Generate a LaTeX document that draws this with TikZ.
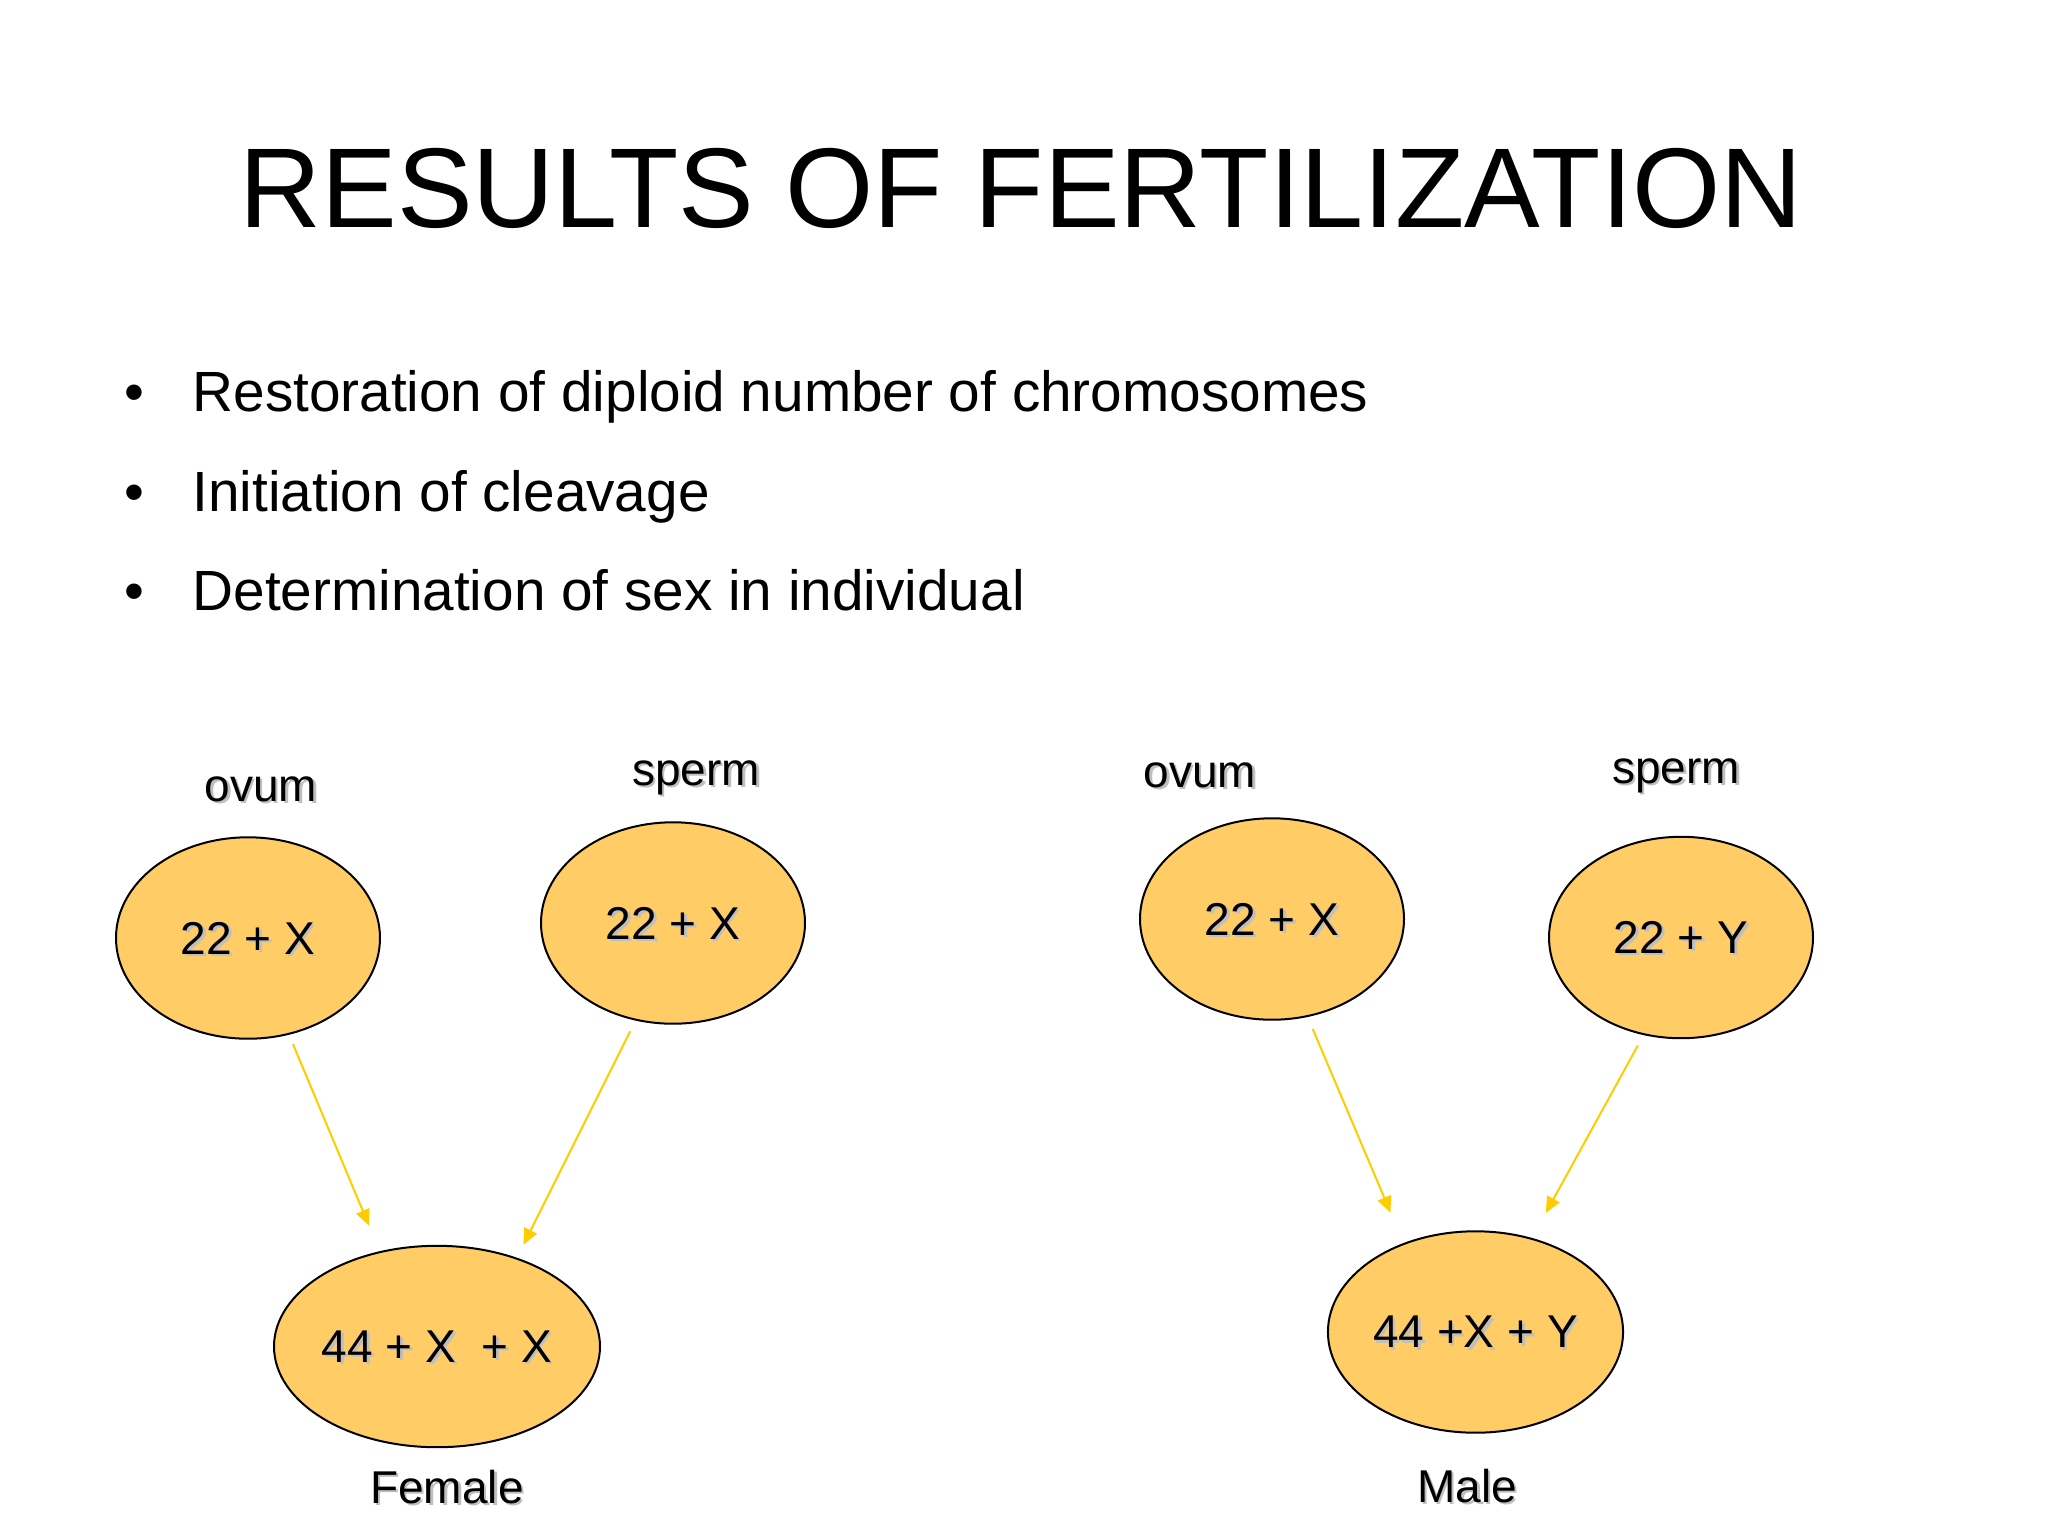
\documentclass[tikz,border=0pt]{standalone}
\usepackage{fontspec}
\setmainfont{Liberation Sans}
\usepackage{xcolor}
\usepackage{tikz}
\usetikzlibrary{shapes.geometric,arrows.meta}

\definecolor{cellfill}{HTML}{FFCC66}
\definecolor{arrowgold}{HTML}{FFCC00}
\newcommand{\shadowed}[1]{\rlap{\kern0.9pt\raisebox{-0.8pt}{\textcolor{black!25}{#1}}}#1}

\begin{document}
\begin{tikzpicture}[x=0.35pt, y=-0.35pt,
    cell/.style={ellipse, draw, line width=0.7pt, fill=cellfill, minimum width=92.4pt, minimum height=70.5pt, inner sep=0pt, text depth=-1.2pt, font=\fontsize{16.1}{19}\selectfont},
    caption/.style={anchor=base, inner sep=0pt, font=\fontsize{16.1}{19}\selectfont},
    point/.style={anchor=base west, inner sep=0pt, font=\fontsize{19.85}{24}\selectfont},
    arrow/.style={-{Triangle[length=5.6pt,width=4.9pt]}, arrowgold, line width=0.7pt}]
    \useasboundingbox (0,0) rectangle (2048,1535);

    \node [anchor=base, inner sep=0pt, font=\fontsize{39.7}{48}\selectfont] (title) at (1021,228) {RESULTS OF FERTILIZATION};

    \node [point] (restore) at (192,411) {\llap{\textbullet\hspace{16.8pt}}Restoration of diploid number of chromosomes};
    \node [point] (cleave) at (192,511) {\llap{\textbullet\hspace{16.8pt}}Initiation of cleavage};
    \node [point] (sexdet) at (192,610) {\llap{\textbullet\hspace{16.8pt}}Determination of sex in individual};

    % Female side
    \node [cell] (ovumF) at (248,938) {\shadowed{22 + X}};
    \node [cell] (spermF) at (673,923) {\shadowed{22 + X}};
    \node [cell, minimum width=114.1pt] (female) at (437,1346.5) {\shadowed{44 + X\ \ + X}};
    \node [caption] (ovumFlabel) at (261,801) {\shadowed{ovum}};
    \node [caption] (spermFlabel) at (696,785) {\shadowed{sperm}};
    \node [caption] (femaleLabel) at (447,1503) {\shadowed{Female}};

    % Male side
    \node [cell] (ovumM) at (1272,919) {\shadowed{22 + X}};
    \node [cell] (spermM) at (1681,937.5) {\shadowed{22 + Y}};
    \node [cell, minimum width=103.3pt] (male) at (1475.5,1332) {\shadowed{44 +X + Y}};
    \node [caption] (ovumMlabel) at (1200,787) {\shadowed{ovum}};
    \node [caption] (spermMlabel) at (1676,783) {\shadowed{sperm}};
    \node [caption] (maleLabel) at (1467,1502) {\shadowed{Male}};

    % Arrows
    \draw [arrow, shorten <=3.5pt, shorten >=9.7pt] (ovumF.-67.3) -- (female.121.4);
    \draw [arrow, shorten <=4.2pt, shorten >=5.1pt] (spermF.-111.6) -- (female.48.8);
    \draw [arrow, shorten <=4.5pt, shorten >=11.6pt] (ovumM.-70.2) -- (male.129.3);
    \draw [arrow, shorten <=4.1pt, shorten >=10pt] (spermM.-111.1) -- (male.59.5);
\end{tikzpicture}
\end{document}
